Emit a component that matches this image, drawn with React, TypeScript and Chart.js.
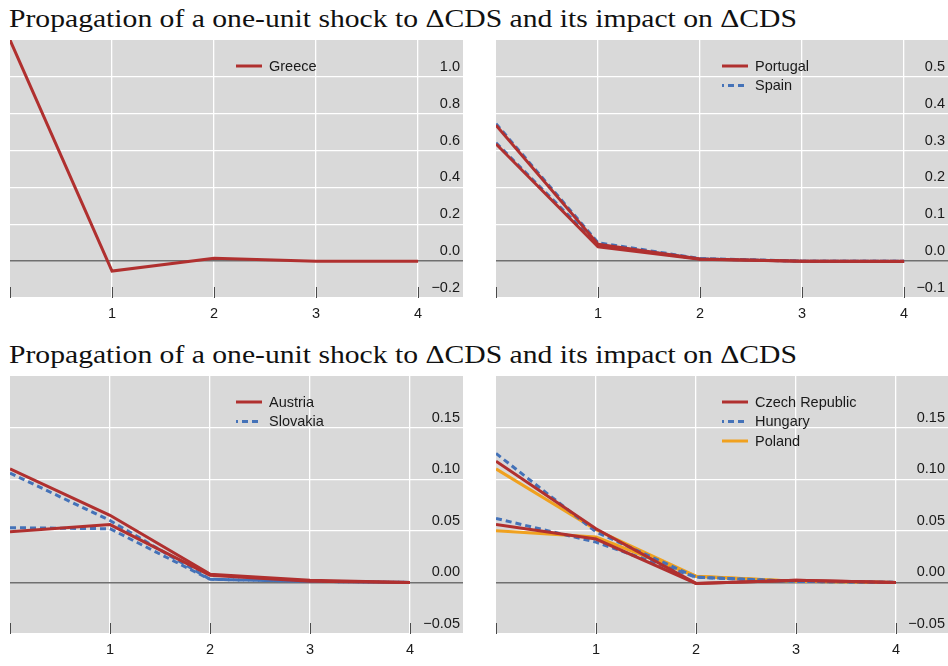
import React, { useEffect, useLayoutEffect, useRef, useState } from "react";
import { Chart, registerables } from "chart.js";

Chart.register(...registerables);

const TITLE = "Propagation of a one-unit shock to \u0394CDS and its impact on \u0394CDS";

// horizons (x values)
const horizons = [0, 1, 2, 3, 4];
const xTickValues = [1, 2, 3, 4];
const tickMarkValues = [0, 1, 2, 3, 4];

// Panel 1
const greece = [1.2, -0.054, 0.016, 0.0, 0.0];

// Panel 2
const portugalA = [0.369, 0.046, 0.006, 0.0, 0.0];
const portugalB = [0.318, 0.039, 0.005, 0.0, -0.001];
const spainA = [0.373, 0.05, 0.007, 0.0, 0.0];
const spainB = [0.321, 0.044, 0.006, 0.0, 0.0];

// Panel 3
const austriaA = [0.11, 0.065, 0.008, 0.002, 0.0];
const austriaB = [0.049, 0.056, 0.007, 0.001, 0.0];
const slovakiaA = [0.106, 0.06, 0.003, 0.001, 0.0];
const slovakiaB = [0.053, 0.052, 0.003, 0.001, 0.0];

// Panel 4
const czechA = [0.1175, 0.052, -0.001, 0.002, 0.0];
const czechB = [0.056, 0.042, -0.001, 0.002, 0.0];
const hungaryA = [0.125, 0.049, 0.005, 0.001, 0.0];
const hungaryB = [0.062, 0.039, 0.005, 0.001, 0.0];
const polandA = [0.11, 0.051, 0.006, 0.001, 0.0];
const polandB = [0.05, 0.044, 0.006, 0.001, 0.0];

// y tick labels
const yTicksGreece = [-0.2, 0.0, 0.2, 0.4, 0.6, 0.8, 1.0];
const yTicksIberia = [-0.1, 0.0, 0.1, 0.2, 0.3, 0.4, 0.5];
const yTicksBottom = [-0.05, 0.0, 0.05, 0.1, 0.15];

const RED = "#b0302f";
const BLUE = "#4472b8";
const ORANGE = "#f0a11f";
const BG = "#d9d9d9";
const FONT = "'Liberation Sans', Arial, Helvetica, sans-serif";

type Series = { label: string; data: number[]; color: string; dash: boolean };

const fmt = (v: number, d: number) => {
  const s = Math.abs(v).toFixed(d);
  return v < -1e-9 ? "\u2212" + s : s;
};

const bgPlugin = {
  id: "bgPlugin",
  beforeDraw(chart: any) {
    const { ctx, chartArea } = chart;
    ctx.save();
    ctx.fillStyle = BG;
    ctx.fillRect(chartArea.left, chartArea.top, chartArea.right - chartArea.left, chartArea.bottom - chartArea.top);
    ctx.restore();
  },
};

const tickMarkPlugin = {
  id: "tickMarkPlugin",
  afterDatasetsDraw(chart: any) {
    const { ctx, chartArea } = chart;
    const xs = chart.scales.x;
    ctx.save();
    ctx.strokeStyle = "#4a4a4a";
    ctx.lineWidth = 1;
    tickMarkValues.forEach((v) => {
      const px = Math.round(xs.getPixelForValue(v)) + 0.5;
      ctx.beginPath();
      ctx.moveTo(px, chartArea.bottom - 11);
      ctx.lineTo(px, chartArea.bottom);
      ctx.stroke();
    });
    ctx.restore();
  },
};

const legendPlugin = {
  id: "legendPlugin",
  afterDatasetsDraw(chart: any) {
    const { ctx, chartArea } = chart;
    const seen: string[] = [];
    const items: any[] = [];
    chart.data.datasets.forEach((ds: any) => {
      if (seen.indexOf(ds.label) < 0) {
        seen.push(ds.label);
        items.push(ds);
      }
    });
    ctx.save();
    items.forEach((ds, i) => {
      const y = chartArea.top + 26 + i * 19.5;
      const x0 = chartArea.left + 226;
      const dashed = ds.borderDash && ds.borderDash.length;
      ctx.strokeStyle = ds.borderColor;
      ctx.lineWidth = 3;
      ctx.setLineDash(dashed ? [6, 4] : []);
      ctx.lineDashOffset = dashed ? 4 : 0;
      ctx.beginPath();
      ctx.moveTo(x0, y);
      ctx.lineTo(x0 + 26, y);
      ctx.stroke();
      ctx.setLineDash([]);
      ctx.fillStyle = "#1a1a1a";
      ctx.font = `14.5px ${FONT}`;
      ctx.textBaseline = "middle";
      ctx.textAlign = "left";
      ctx.fillText(ds.label, x0 + 33, y + 0.5);
    });
    ctx.restore();
  },
};

type PanelProps = {
  left: number;
  top: number;
  width: number;
  plotHeight: number;
  xMax: number;
  yMin: number;
  yMax: number;
  yTicks: number[];
  decimals: number;
  series: Series[];
};

const zeroPad = (s: any) => {
  s.paddingTop = 0;
  s.paddingBottom = 0;
  s.paddingLeft = 0;
  s.paddingRight = 0;
};

function Panel(p: PanelProps) {
  const ref = useRef<HTMLCanvasElement | null>(null);
  const axisH = 30;
  useEffect(() => {
    if (!ref.current) return;
    const chart = new Chart(ref.current, {
      type: "line",
      data: {
        datasets: p.series.map((s) => ({
          label: s.label,
          data: horizons.map((h, i) => ({ x: h, y: s.data[i] })),
          borderColor: s.color,
          backgroundColor: s.color,
          borderWidth: 3,
          borderDash: s.dash ? [6, 4] : [],
          borderCapStyle: "butt",
          borderJoinStyle: "miter",
          pointRadius: 0,
          tension: 0,
          fill: false,
        })),
      },
      options: {
        animation: false,
        responsive: false,
        maintainAspectRatio: false,
        layout: { padding: 0 },
        plugins: {
          legend: { display: false },
          tooltip: { enabled: false },
          title: { display: false },
        },
        scales: {
          x: {
            type: "linear",
            min: 0,
            max: p.xMax,
            afterBuildTicks: (s: any) => {
              s.ticks = xTickValues.map((v) => ({ value: v }));
            },
            afterFit: (s: any) => {
              s.height = axisH;
              zeroPad(s);
            },
            grid: { color: "#ffffff", lineWidth: 1.3, drawTicks: false },
            border: { display: false },
            ticks: {
              padding: 7,
              color: "#1a1a1a",
              font: { size: 14.5, family: FONT },
              maxRotation: 0,
              autoSkip: false,
              callback: (v: any) => String(v),
            },
          },
          y: {
            type: "linear",
            position: "right",
            min: p.yMin,
            max: p.yMax,
            afterBuildTicks: (s: any) => {
              s.ticks = p.yTicks.map((v) => ({ value: v }));
            },
            afterFit: (s: any) => {
              s.width = 0;
              zeroPad(s);
            },
            grid: {
              color: (c: any) => (c.tick && Math.abs(c.tick.value) < 1e-9 ? "#707070" : "#ffffff"),
              lineWidth: (c: any) => (c.tick && Math.abs(c.tick.value) < 1e-9 ? 1.5 : 1.3),
              drawTicks: false,
            },
            border: { display: false },
            ticks: {
              mirror: true,
              padding: -3,
              labelOffset: -10,
              color: "#1a1a1a",
              font: { size: 14.5, family: FONT },
              callback: (v: any) => fmt(Number(v), p.decimals),
            },
          },
        },
      } as any,
      plugins: [bgPlugin, tickMarkPlugin, legendPlugin],
    });
    return () => chart.destroy();
  }, []);
  return (
    <canvas
      ref={ref}
      width={p.width}
      height={p.plotHeight + axisH}
      style={{ position: "absolute", left: p.left, top: p.top, width: p.width, height: p.plotHeight + axisH }}
    />
  );
}

function Title({ top }: { top: number }) {
  const ref = useRef<HTMLSpanElement | null>(null);
  const [scale, setScale] = useState(1);
  useLayoutEffect(() => {
    if (ref.current) {
      const w = ref.current.getBoundingClientRect().width;
      if (w > 0) setScale(788 / w);
    }
  }, []);
  return (
    <div
      style={{
        position: "absolute",
        left: 9,
        top,
        whiteSpace: "nowrap",
        fontFamily: "'Liberation Serif', 'DejaVu Serif', serif",
        fontSize: 25.5,
        lineHeight: 1,
        color: "#111",
        transformOrigin: "left top",
        transform: `scaleX(${scale})`,
      }}
    >
      <span ref={ref}>{TITLE}</span>
    </div>
  );
}

export default function App() {
  Chart.defaults.font.family = FONT;
  return (
    <div style={{ position: "absolute", left: 0, top: 0, width: 948, height: 666, background: "#fff", overflow: "hidden" }}>
      <Title top={5.6} />
      <Title top={341.6} />
      <Panel
        left={10}
        top={40}
        width={453}
        plotHeight={258}
        xMax={4.44}
        yMin={-0.2}
        yMax={1.2}
        yTicks={yTicksGreece}
        decimals={1}
        series={[{ label: "Greece", data: greece, color: RED, dash: false }]}
      />
      <Panel
        left={496}
        top={40}
        width={452}
        plotHeight={258}
        xMax={4.43}
        yMin={-0.1}
        yMax={0.6}
        yTicks={yTicksIberia}
        decimals={1}
        series={[
          { label: "Portugal", data: portugalA, color: RED, dash: false },
          { label: "Portugal", data: portugalB, color: RED, dash: false },
          { label: "Spain", data: spainA, color: BLUE, dash: true },
          { label: "Spain", data: spainB, color: BLUE, dash: true },
        ]}
      />
      <Panel
        left={10}
        top={376}
        width={453}
        plotHeight={258}
        xMax={4.53}
        yMin={-0.05}
        yMax={0.2}
        yTicks={yTicksBottom}
        decimals={2}
        series={[
          { label: "Austria", data: austriaA, color: RED, dash: false },
          { label: "Austria", data: austriaB, color: RED, dash: false },
          { label: "Slovakia", data: slovakiaA, color: BLUE, dash: true },
          { label: "Slovakia", data: slovakiaB, color: BLUE, dash: true },
        ]}
      />
      <Panel
        left={496}
        top={376}
        width={452}
        plotHeight={258}
        xMax={4.52}
        yMin={-0.05}
        yMax={0.2}
        yTicks={yTicksBottom}
        decimals={2}
        series={[
          { label: "Czech Republic", data: czechA, color: RED, dash: false },
          { label: "Czech Republic", data: czechB, color: RED, dash: false },
          { label: "Hungary", data: hungaryA, color: BLUE, dash: true },
          { label: "Hungary", data: hungaryB, color: BLUE, dash: true },
          { label: "Poland", data: polandA, color: ORANGE, dash: false },
          { label: "Poland", data: polandB, color: ORANGE, dash: false },
        ]}
      />
    </div>
  );
}
